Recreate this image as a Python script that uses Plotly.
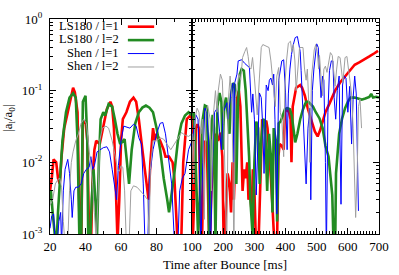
import plotly.graph_objects as go

# ---------------- data (time in ms after bounce, |a_l/a_0|) ----------------
t_ls1 = [20, 21, 22, 23.5, 24.5, 25.5, 26.5, 28, 30, 32, 33, 34, 35.5, 36.5, 37.5, 38.5, 40, 41, 42, 43,
         44, 45, 46, 48, 50, 52, 54, 55, 56, 57, 58, 59, 60, 61, 62, 63, 65, 67, 68.5, 70, 72, 73.5, 75,
         75.5, 76.5, 78, 79, 80, 82, 84, 85, 87, 89, 90, 91, 92, 94, 95, 97, 99, 100,
         103, 108, 112, 117, 122, 127, 131, 136, 141, 147, 152, 156, 162, 169, 175, 183, 191, 197, 202,
         208, 214, 220, 225, 230, 234, 241, 245, 250, 255, 259, 262, 267, 272, 277, 281, 286, 291, 295,
         300, 306, 312, 319, 325, 331, 338, 342, 347, 353, 359, 366, 372, 377, 381, 388, 394, 398, 403,
         411, 416, 419, 423, 428, 434, 441, 447, 453, 462, 472, 478, 486, 494, 503, 511, 519, 528, 541,
         550, 559, 575, 591, 606, 622, 638, 653, 669, 684, 697]
v_ls1 = [0.004, 0.006, 0.011, 0.010, 0.006, 0.005, 0.012, 0.03, 0.05, 0.09, 0.11, 0.095, 0.05, 0.002, 0.0006,
         0.035, 0.038, 0.02, 0.001, 0.0006, 0.006, 0.015, 0.02, 0.018, 0.03, 0.055, 0.07, 0.06, 0.03, 0.005,
         0.0008, 0.003, 0.02, 0.04, 0.045, 0.05, 0.07, 0.08, 0.07, 0.04, 0.015, 0.007, 0.004, 0.003, 0.01,
         0.03, 0.02, 0.025, 0.02, 0.015, 0.012, 0.012, 0.01, 0.006, 0.002, 0.0006, 0.001, 0.01, 0.04, 0.045,
         0.04,
         0.001, 0.005, 0.03, 0.034, 0.03, 0.002, 0.0005, 0.008, 0.02, 0.018, 0.002, 0.0005, 0.004, 0.01,
         0.025, 0.02, 0.026, 0.012, 0.0005, 0.002, 0.007, 0.005, 0.002, 0.01, 0.003, 0.02, 0.08, 0.1, 0.06,
         0.012, 0.004, 0.008, 0.006, 0.01, 0.003, 0.0043, 0.002, 0.008, 0.004, 0.0005, 0.0005, 0.005, 0.04,
         0.035, 0.038, 0.03, 0.015, 0.006, 0.002, 0.0005, 0.0005, 0.012, 0.018, 0.017, 0.015, 0.05, 0.055,
         0.05, 0.04, 0.01, 0.06, 0.085, 0.11, 0.115, 0.12, 0.11, 0.085, 0.055, 0.045, 0.033, 0.027, 0.023,
         0.028, 0.037, 0.05, 0.066, 0.08, 0.1, 0.13, 0.157, 0.19, 0.23, 0.25, 0.27, 0.30, 0.33, 0.36]

t_ls2 = [20, 20.5, 21.5, 22.5, 23.5, 24.5, 25.5, 27, 29, 31, 33, 34.5, 35.5, 36.5, 37.5, 38.5, 40, 41, 41.5,
         42.5, 43.5, 44.5, 45.5, 46.5, 47.5, 48.5, 50, 51, 53, 55, 56.5, 58, 59.5, 61, 62, 63, 64.5, 66, 68,
         70, 72, 74, 76, 78, 80, 82, 84, 86, 87, 88, 90, 92, 94, 96, 98, 100,
         105, 109, 114, 119, 123, 128, 134, 141, 147, 152, 155, 159, 166, 170, 175, 181, 188, 194, 198, 203,
         209, 216, 220, 225, 231, 237, 242, 247, 253, 259, 266, 272, 278, 283, 287, 294, 300, 306, 312, 317,
         322, 328, 334, 341, 347, 353, 358, 362, 369, 373, 378, 384, 391, 398, 406, 414, 420, 427, 431, 438,
         447, 456, 466, 473, 481, 488, 497, 509, 519, 528, 538, 544, 550, 555, 559, 562, 572, 581, 591, 600,
         609, 622, 634, 644, 656, 669, 675, 681, 691, 700]
v_ls2 = [0.003, 0.004, 0.002, 0.0009, 0.0006, 0.002, 0.005, 0.02, 0.05, 0.08, 0.092, 0.08, 0.02, 0.001,
         0.0006, 0.07, 0.085, 0.02, 0.001, 0.0006, 0.003, 0.008, 0.003, 0.001, 0.01, 0.04, 0.05, 0.045,
         0.065, 0.06, 0.04, 0.025, 0.018, 0.02, 0.021, 0.012, 0.005, 0.015, 0.035, 0.05, 0.058, 0.062,
         0.058, 0.05, 0.03, 0.015, 0.006, 0.003, 0.002, 0.003, 0.007, 0.02, 0.035, 0.045, 0.05, 0.045,
         0.05, 0.02, 0.003, 0.001, 0.002, 0.01, 0.04, 0.062, 0.06, 0.01, 0.0005, 0.02, 0.046, 0.03, 0.0008,
         0.06, 0.093, 0.07, 0.015, 0.06, 0.08, 0.04, 0.025, 0.09, 0.127, 0.12, 0.005, 0.06, 0.17, 0.2, 0.19,
         0.1, 0.03, 0.012, 0.003, 0.001, 0.01, 0.037, 0.03, 0.005, 0.02, 0.04, 0.038, 0.004, 0.025, 0.012,
         0.002, 0.03, 0.02, 0.0015, 0.035, 0.037, 0.045, 0.055, 0.057, 0.055, 0.045, 0.025, 0.019, 0.025,
         0.04, 0.055, 0.07, 0.07, 0.065, 0.06, 0.05, 0.041, 0.03, 0.017, 0.012, 0.006, 0.0035, 0.0005,
         0.0005, 0.007, 0.025, 0.04, 0.057, 0.07, 0.08, 0.08, 0.078, 0.075, 0.078, 0.082, 0.09, 0.08,
         0.082, 0.08]

t_sh1 = [20, 21, 22, 23, 24, 25, 26, 26.5, 27.5, 28.5, 30, 31, 32, 32.5, 33.5, 34.5, 36, 37.5, 39, 40.5, 42,
         43, 44, 45, 46.5, 48, 50, 52, 53.5, 55, 56.5, 57.5, 58.5, 60, 61.5, 63, 65, 67, 68.5, 70, 71.5,
         72.5, 73.5, 75, 76, 78, 80, 82, 83.5, 85, 87, 88.5, 90, 92, 93, 94.5, 96, 98, 100,
         106, 112, 119, 123, 128, 134, 141, 147, 153, 159, 166, 172, 181, 188, 194, 200, 206, 212, 216,
         220, 225, 231, 234, 237, 244, 248, 259, 269, 278, 284, 291, 295, 300, 306, 316, 322, 327, 331,
         338, 344, 348, 353, 358, 362, 366, 372, 378, 383, 388, 394, 400, 405, 409, 414, 419, 425, 431,
         438, 442, 447, 450, 455, 459, 466, 472, 478, 481, 486, 491, 495, 500, 505, 509, 514, 519, 523,
         528, 531, 536, 541, 547, 552, 556, 561, 566, 572, 575, 578, 583, 588, 594, 600, 606, 612, 617,
         622, 627, 631, 634]
v_sh1 = [0.0012, 0.0018, 0.0019, 0.0007, 0.0007, 0.0015, 0.002, 0.0007, 0.004, 0.008, 0.011, 0.007, 0.003,
         0.0017, 0.004, 0.0045, 0.0045, 0.005, 0.007, 0.008, 0.0085, 0.012, 0.008, 0.009, 0.014, 0.015,
         0.016, 0.0165, 0.014, 0.008, 0.004, 0.003, 0.009, 0.02, 0.032, 0.031, 0.03, 0.034, 0.032, 0.022,
         0.018, 0.005, 0.0007, 0.0007, 0.006, 0.015, 0.025, 0.035, 0.036, 0.025, 0.01, 0.005, 0.0008,
         0.0007, 0.004, 0.006, 0.007, 0.015, 0.02,
         0.03, 0.046, 0.04, 0.012, 0.0005, 0.01, 0.057, 0.05, 0.02, 0.0005, 0.012, 0.05, 0.057, 0.03,
         0.015, 0.05, 0.06, 0.068, 0.04, 0.06, 0.1, 0.127, 0.01, 0.13, 0.17, 0.26, 0.27, 0.24, 0.22, 0.21,
         0.05, 0.09, 0.04, 0.0035, 0.093, 0.08, 0.03, 0.007, 0.12, 0.1, 0.14, 0.15, 0.12, 0.17, 0.04,
         0.0019, 0.14, 0.18, 0.26, 0.27, 0.093, 0.015, 0.09, 0.2, 0.32, 0.44, 0.55, 0.57, 0.48, 0.35, 0.19,
         0.06, 0.02, 0.005, 0.03, 0.057, 0.003, 0.1, 0.2, 0.29, 0.45, 0.4, 0.2, 0.08, 0.16, 0.14, 0.01,
         0.0005, 0.05, 0.19, 0.26, 0.26, 0.08, 0.04, 0.1, 0.16, 0.018, 0.0026, 0.12, 0.16, 0.15, 0.05,
         0.115, 0.018, 0.08, 0.16, 0.09, 0.01, 0.0021]

t_sh2 = [20, 21.5, 23, 24.5, 25.5, 26.5, 27.5, 28.5, 30, 31, 32, 33, 34.5, 36, 37.5, 39, 40.5, 41.5, 43, 44,
         45, 46, 47, 48, 49.5, 51.5, 53, 55, 56.5, 58, 59, 60, 61, 62, 63, 64.5, 65.5, 67, 69, 71, 73, 75,
         75.8, 76.5, 78, 80, 82, 84, 86, 88, 90, 92, 94, 96, 98, 100,
         105, 109, 116, 122, 128, 134, 139, 144, 150, 158, 162, 169, 175, 180, 184, 191, 197, 202, 206,
         211, 216, 222, 227, 231, 234, 239, 244, 250, 256, 262, 269, 275, 280, 284, 289, 294, 300, 305,
         309, 316, 322, 327, 336, 347, 353, 358, 362, 367, 372, 378, 383, 388, 394, 398, 403, 409, 416,
         420, 425, 430, 434, 441, 445, 456, 461, 466, 470, 475, 478, 483, 488, 492, 497, 502, 506, 509,
         514, 519, 523, 528, 533, 538, 544, 550, 555, 559, 564, 569, 575, 580, 584, 591, 597, 602, 606,
         612, 617, 622, 625, 630, 634, 639, 644]
v_sh2 = [0.0025, 0.003, 0.005, 0.0058, 0.006, 0.0045, 0.0015, 0.0007, 0.0007, 0.004, 0.01, 0.014, 0.02,
         0.025, 0.035, 0.04, 0.035, 0.02, 0.008, 0.005, 0.002, 0.0008, 0.003, 0.02, 0.03, 0.032, 0.03,
         0.02, 0.013, 0.008, 0.0075, 0.009, 0.0085, 0.004, 0.0007, 0.0007, 0.004, 0.0047, 0.0045, 0.004,
         0.0035, 0.003, 0.0008, 0.008, 0.02, 0.02, 0.022, 0.021, 0.018, 0.015, 0.018, 0.022, 0.026, 0.024,
         0.023, 0.025,
         0.005, 0.04, 0.057, 0.05, 0.025, 0.04, 0.0016, 0.05, 0.062, 0.04, 0.004, 0.05, 0.1, 0.05, 0.1,
         0.17, 0.14, 0.034, 0.004, 0.0005, 0.07, 0.16, 0.08, 0.01, 0.0005, 0.08, 0.11, 0.17, 0.14, 0.29,
         0.35, 0.4, 0.3, 0.21, 0.2, 0.29, 0.15, 0.08, 0.046, 0.15, 0.4, 0.44, 0.42, 0.4, 0.26, 0.15, 0.1,
         0.06, 0.16, 0.21, 0.05, 0.04, 0.012, 0.12, 0.26, 0.46, 0.49, 0.35, 0.44, 0.26, 0.1, 0.3, 0.4,
         0.4, 0.2, 0.14, 0.2, 0.06, 0.01, 0.15, 0.27, 0.37, 0.44, 0.35, 0.2, 0.31, 0.15, 0.085, 0.2, 0.22,
         0.18, 0.26, 0.34, 0.31, 0.2, 0.115, 0.2, 0.3, 0.29, 0.17, 0.13, 0.29, 0.3, 0.2, 0.15, 0.09, 0.03,
         0.0066, 0.0017, 0.007, 0.06, 0.077, 0.03]

names = ["LS180 / l=1", "LS180 / l=2", "Shen / l=1", "Shen / l=2"]
colors = ["#ff0000", "#228b22", "#0000ff", "#a0a0a0"]
widths = [2.6, 2.6, 1.0, 1.0]
series_t = [t_ls1, t_ls2, t_sh1, t_sh2]
series_v = [v_ls1, v_ls2, v_sh1, v_sh2]

y_tickvals = [0.001, 0.01, 0.1, 1]
y_ticktext = ["10<sup>-3</sup>", "10<sup>-2</sup>", "10<sup>-1</sup>", "10<sup>0</sup>"]
x1_ticks = [20, 40, 60, 80, 100]
x1_text = ["20", "40", "60", "80", ""]
x2_ticks = [100, 200, 300, 400, 500, 600, 700]

# ---------------- figure ----------------
W, H = 399, 275
ML, MR, MT, MB = 50, 11, 10, 41
split = (196 - ML) / (W - ML - MR)

fig = go.Figure()
for xa in ["x", "x2"]:
    for n, c, w, tt, vv in zip(names, colors, widths, series_t, series_v):
        fig.add_trace(go.Scatter(x=tt, y=vv, mode="lines", name=n, xaxis=xa, yaxis="y" if xa == "x" else "y2",
                                 line=dict(color=c, width=w), showlegend=False, hoverinfo="skip"))

FONT = "Liberation Serif"
axis_common = dict(showline=True, linecolor="black", linewidth=1, mirror="ticks", ticks="inside",
                   ticklen=6, tickcolor="black", tickwidth=1, showgrid=False, zeroline=False,
                   tickfont=dict(family=FONT, size=13, color="black"))

fig.update_layout(
    width=W, height=H, margin=dict(l=ML, r=MR, t=MT, b=MB),
    paper_bgcolor="white", plot_bgcolor="white", showlegend=False,
    font=dict(family=FONT, size=13, color="black"),
    xaxis=dict(domain=[0, split], range=[20, 100], tickvals=x1_ticks, ticktext=x1_text, anchor="y",
               minor=dict(dtick=10, tick0=0, ticks="inside", ticklen=3, tickcolor="black", showgrid=False),
               **axis_common),
    xaxis2=dict(domain=[split, 1], range=[100, 700], tickvals=x2_ticks, anchor="y2",
                minor=dict(dtick=10, tick0=0, ticks="inside", ticklen=3, tickcolor="black", showgrid=False),
                **axis_common),
    yaxis=dict(type="log", range=[-3, 0], tickvals=y_tickvals, ticktext=y_ticktext, anchor="x",
               ticklabelstandoff=4,
               minor=dict(dtick="D1", ticks="inside", ticklen=3, tickcolor="black", showgrid=False),
               **axis_common),
    yaxis2=dict(type="log", range=[-3, 0], tickvals=y_tickvals, anchor="x2", showticklabels=False,
                matches="y",
                minor=dict(dtick="D1", ticks="inside", ticklen=3, tickcolor="black", showgrid=False),
                **axis_common),
)

def px(xp):
    return (xp - ML) / (W - ML - MR)

def py(yp):
    return (H - MB - yp) / (H - MT - MB)

# legend (text right-aligned, sample line on the right, as in the original)
rows = [17, 31, 45, 59]
for n, c, w, yy in zip(names, colors, widths, rows):
    fig.add_annotation(x=px(123), y=py(yy), xref="paper", yref="paper", text=n, showarrow=False,
                       xanchor="right", yanchor="middle", font=dict(family=FONT, size=12.5, color="black"))
    fig.add_shape(type="line", xref="paper", yref="paper", x0=px(130), x1=px(157), y0=py(yy + 1), y1=py(yy + 1),
                  line=dict(color=c, width=w))

# axis titles
fig.add_annotation(x=px(230), y=py(266), xref="paper", yref="paper", text="Time after Bounce [ms]",
                   showarrow=False, xanchor="center", yanchor="middle",
                   font=dict(family=FONT, size=13, color="black"))
fig.add_annotation(x=px(8), y=py(114), xref="paper", yref="paper",
                   text="|a<sub>l</sub>/a<sub>0</sub>|", textangle=-90, showarrow=False,
                   xanchor="center", yanchor="middle", font=dict(family=FONT, size=13, color="black"))

fig.write_html("out.html", config={"displayModeBar": False},
               post_script="document.body.style.margin='0';document.body.style.padding='0';")
